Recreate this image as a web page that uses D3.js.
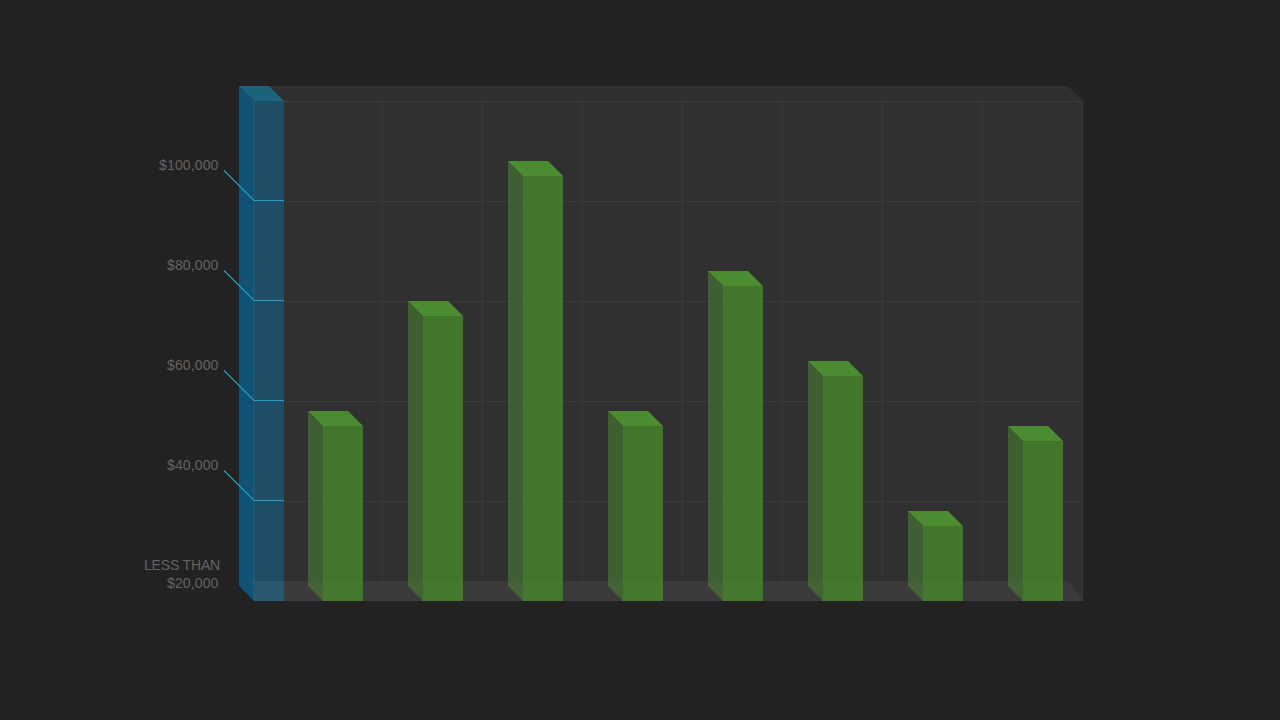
<!DOCTYPE html>
<html>
<head>
    <meta charset="utf-8">
    <title>Income columns</title>
    <script src="https://d3js.org/d3.v7.min.js"></script>
    <style>
        html, body { margin: 0; padding: 0; background: #222222; }
        svg { display: block; }
    </style>
</head>

<body>
<div id="chart"></div>
<script type="text/javascript">

    let categories = ["1", "2", "3", "4", "5", "6", "7", "8"];
    let values = [55000, 77000, 105000, 55000, 83000, 65000, 35000, 52000];
    let yTicks = [40000, 60000, 80000, 100000];
    let yLabels = ["$40,000", "$60,000", "$80,000", "$100,000"];
    let floorLabels = ["LESS THAN", "$20,000"];

    let w = 1280;
    let h = 720;
    let depth = 15;

    let svg = d3.select("#chart")
        .append("svg")
        .attr("width", w)
        .attr("height", h);

    let yScale = d3.scaleLinear()
        .domain([20000, 120000])
        .range([601, 101]);

    // one step is 100px, bars 40px wide
    let xScale = d3.scaleBand()
        .domain(categories)
        .range([283, 1103])
        .paddingInner(0.6)
        .paddingOuter(0.4);

    let xLeft = 284;
    let xRight = 1083;
    let yTop = yScale(120000);
    let yBottom = yScale(20000);

    function poly(points) {
        return d3.line()(points) + "Z";
    }

    // top band
    svg.append("path")
        .attr("d", poly([[xLeft - depth, yTop - depth], [xRight - depth, yTop - depth], [xRight, yTop], [xLeft, yTop]]))
        .attr("fill", "#2f2f2f");

    // back wall
    svg.append("rect")
        .attr("x", xLeft)
        .attr("y", yTop)
        .attr("width", xRight - xLeft)
        .attr("height", yBottom - yTop)
        .attr("fill", "#303030");

    // floor
    svg.append("path")
        .attr("d", poly([[254, 581], [xRight - depth, 581], [xRight, yBottom], [254, yBottom]]))
        .attr("fill", "#3b3b3b");

    // grid
    svg.selectAll(".vgrid")
        .data(categories.slice(1))
        .enter()
        .append("line")
        .attr("class", "vgrid")
        .attr("x1", function(d) { return xScale(d) - 40.5; })
        .attr("x2", function(d) { return xScale(d) - 40.5; })
        .attr("y1", yTop)
        .attr("y2", yBottom)
        .attr("stroke", "#393939");

    svg.selectAll(".hgrid")
        .data(yTicks)
        .enter()
        .append("line")
        .attr("class", "hgrid")
        .attr("x1", xLeft)
        .attr("x2", xRight)
        .attr("y1", function(d) { return yScale(d) + 0.5; })
        .attr("y2", function(d) { return yScale(d) + 0.5; })
        .attr("stroke", "#393939");

    // outline of the wall
    svg.append("path")
        .attr("d", "M" + xLeft + "," + (yTop + 0.5) + "H" + (xRight - 0.5) + "V" + yBottom)
        .attr("fill", "none")
        .attr("stroke", "#3b3b3b");

    // blue scale column
    svg.append("path")
        .attr("d", poly([[239, yTop - depth], [254, yTop], [254, yBottom], [239, yBottom - depth]]))
        .attr("fill", "#115375");
    svg.append("rect")
        .attr("x", 254)
        .attr("y", yTop)
        .attr("width", xLeft - 254)
        .attr("height", yBottom - yTop)
        .attr("fill", "#1f6a94")
        .attr("fill-opacity", 0.6);
    svg.append("path")
        .attr("d", poly([[239, yTop - depth], [269, yTop - depth], [xLeft, yTop], [254, yTop]]))
        .attr("fill", "#1c647c");
    svg.append("line")
        .attr("x1", 254)
        .attr("x2", 254)
        .attr("y1", yTop)
        .attr("y2", yBottom)
        .attr("stroke", "#25607f");

    // leader lines
    svg.selectAll(".leader")
        .data(yTicks)
        .enter()
        .append("path")
        .attr("class", "leader")
        .attr("d", function(d) {
            let y = yScale(d) - 0.5;
            return d3.line()([[224, y - 30], [254, y], [xLeft, y]]);
        })
        .attr("fill", "none")
        .attr("stroke", "#2a9cc4")
        .attr("stroke-width", 1.1);

    // bars
    let bars = svg.selectAll(".bar")
        .data(values)
        .enter()
        .append("g")
        .attr("class", "bar");

    bars.append("path")
        .attr("d", function(d, i) {
            let x = xScale(categories[i]);
            return poly([[x - depth, yScale(d) - depth], [x, yScale(d)], [x, yBottom], [x - depth, yBottom - depth]]);
        })
        .attr("fill", "#4c8535")
        .attr("fill-opacity", 0.55);

    bars.append("rect")
        .attr("x", function(d, i) { return xScale(categories[i]); })
        .attr("y", function(d) { return yScale(d); })
        .attr("width", xScale.bandwidth())
        .attr("height", function(d) { return yBottom - yScale(d); })
        .attr("fill", "#47822d")
        .attr("fill-opacity", 0.86);

    bars.append("path")
        .attr("d", function(d, i) {
            let x = xScale(categories[i]);
            let y = yScale(d);
            return poly([[x - depth, y - depth], [x + 25, y - depth], [x + 40, y], [x, y]]);
        })
        .attr("fill", "#4a8c2f");

    // labels
    svg.selectAll(".label")
        .data(yTicks)
        .enter()
        .append("text")
        .attr("class", "label")
        .attr("x", 218.5)
        .attr("y", function(d) { return yScale(d) - 31; })
        .attr("text-anchor", "end")
        .attr("font-family", "Liberation Sans, Arial, sans-serif")
        .attr("font-size", "14px")
        .attr("letter-spacing", "0.13px")
        .attr("fill", "#626262")
        .text(function(d, i) { return yLabels[i]; });

    svg.selectAll(".floorLabel")
        .data(floorLabels)
        .enter()
        .append("text")
        .attr("class", "floorLabel")
        .attr("x", function(d, i) { return i == 0 ? 220 : 218.5; })
        .attr("y", function(d, i) { return 570 + i * 18; })
        .attr("text-anchor", "end")
        .attr("font-family", "Liberation Sans, Arial, sans-serif")
        .attr("font-size", "14px")
        .attr("letter-spacing", function(d, i) { return i == 0 ? "-0.17px" : "0.13px"; })
        .attr("fill", "#626262")
        .text(function(d) { return d; });

</script>
</body>
</html>
